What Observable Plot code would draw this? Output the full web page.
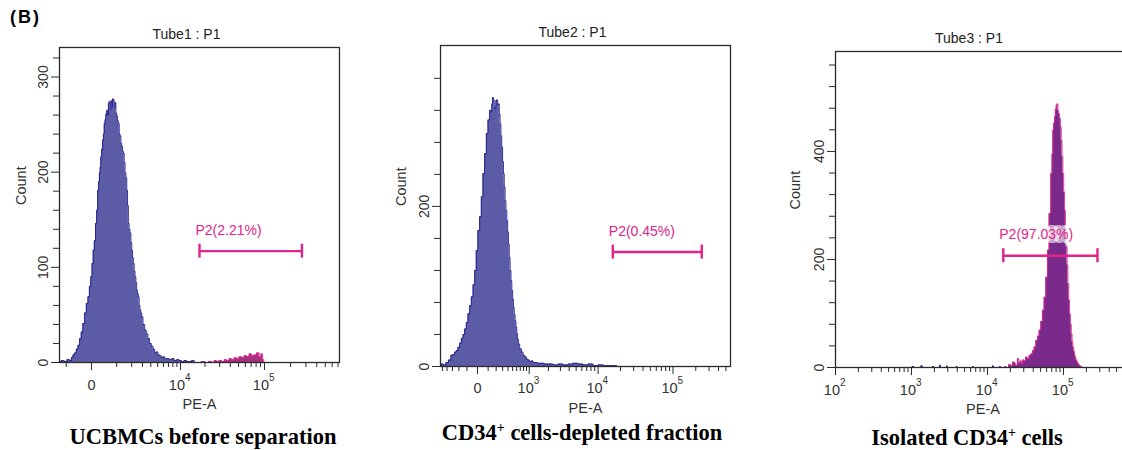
<!DOCTYPE html>
<html><head><meta charset="utf-8">
<script src="https://cdn.jsdelivr.net/npm/d3@7"></script>
<script src="https://cdn.jsdelivr.net/npm/@observablehq/plot@0.6"></script>
<style>
body{margin:0;background:#fff;}
#wrap{position:relative;width:1122px;height:450px;overflow:hidden;font-family:"Liberation Sans",Arial,sans-serif;background:#fff;}
.panel{position:absolute;top:0;}
.cap{position:absolute;font-family:"Liberation Serif","Times New Roman",serif;font-weight:bold;font-size:22.5px;line-height:26px;white-space:nowrap;transform:translateX(-50%);color:#000;}
.cap sup{font-size:62%;position:relative;top:-0.55em;vertical-align:baseline;line-height:0;}
#lab{position:absolute;left:10px;top:7px;font-weight:bold;font-size:18px;letter-spacing:2px;color:#000;}
</style></head><body><div id="wrap"><div id="lab">(B)</div></div>
<script>
// ---------- Panel 1 : UCBMCs before separation ----------
const p1BlueX = [-1390,-1180,-1043,-880,-783,-700,-630,-555,-485,-420,-356,-300,-239,-180,-127,-78,-40,0,33,66,100,140,172,205,235,260,284,309,346,383,405,445,473,510,543,580,613,643,689,730,769,810,847,890,935,980,1026,1070,1116,1170,1216,1270,1320,1370,1422,1480,1536,1600,1655,1710,1772,1830,1902,1970,2037,2100,2171,2240,2318,2390,2473,2550,2626,2700,2794,2880,2970,3150,3336,3530,3735,3950,4187,4420,4663,4900,5181,5466,5766,6070,6385,6900,7434,8000,8629,9300,9996,10700,11550,12400,13330,14300,15360,17000];
const p1BlueY = [1,2,1,3,2,5,8,10,14,18,25,32,41,52,62,69,80,90,104,118,128,146,160,181,190,199,205,216,224,234,240,251,255,261,265,260,272,274,266,275,269,277,276,268,273,262,259,254,251,240,238,230,227,222,220,210,199,194,181,165,146,140,136,126,118,110,104,96,90,84,76,72,69,60,55,52,48,40,34,30,25,20,17,14,10,11,8,7,5,6,4,4,3,4,2,3,2,1,2,1,1,2,0,0];
const p1PosX = [17000,19210,21000,23310,25000,26740,28500,30650,33000,35120,37500,40230,43000,46040,49000,52670,56000,60240,64000,68870,73500,78720,84000,89950,93000,97400,99000];
const p1PosY = [0,1,0,1,0,2,1,2,1,3,2,4,3,5,4,6,5,7,6,9,7,8,10,6,9,3,0];
const p1YTicks = [0,100,200,300];
const p1YMinor = [20,40,60,80,120,140,160,180,220,240,260,280,320];
const p1XTicks = [0,10000,100000];
const p1XBase = ["0","10","10"];
const p1XExp = ["","4","5"];
const p1XMinor = [-1000,1000,2000,3000,4000,5000,6000,7000,8000,9000,20000,30000,40000,50000,60000,70000,80000,90000,200000,300000,400000,500000,600000,700000];
const p1Gate = {x1:17180, x2:270000, y:117, label:"P2(2.21%)"};

// ---------- Panel 2 : CD34+ cells-depleted fraction ----------
const p2BlueX = [-546,-505,-450,-396,-350,-304,-275,-249,-225,-201,-178,-155,-135,-116,-97,-79,-62,-46,-30,-17,-4,10,25,40,55,72,90,107,127,138,148,158,168,180,191,203,215,227,239,252,265,279,293,307,321,336,352,368,385,401,417,435,453,472,491,510,528,549,570,592,615,636,658,708,759,812,866,925,985,1050,1121,1190,1267,1440,1613,1880,2151,2580,3010,3600,4174,4900,5749,6800,7886,9300,10780,13000,16000,20030,25000];
const p2BlueY = [1,3,2,5,8,14,15,18,20,24,29,35,40,47,55,66,76,87,102,120,145,170,187,212,241,266,291,308,320,318,328,336,333,322,324,332,333,327,328,315,303,288,274,256,241,224,207,195,182,168,153,136,120,107,95,84,74,65,57,49,41,34,28,22,18,14,12,9,8,6,7,5,5,4,4,3,3,2,3,2,3,4,3,2,3,1,2,1,1,0,0];
const p2YTicks = [0,200];
const p2YMinor = [40,80,120,160,240,280,320,360];
const p2XTicks = [0,1000,10000,100000];
const p2XBase = ["0","10","10","10"];
const p2XExp = ["","3","4","5"];
const p2XMinor = [-500,-400,-300,-200,-100,100,200,300,400,500,600,700,800,900,2000,3000,4000,5000,6000,7000,8000,9000,20000,30000,40000,50000,60000,70000,80000,90000,200000,300000,400000,500000];
const p2Gate = {x1:15790, x2:240000, y:143, label:"P2(0.45%)"};

// ---------- Panel 3 : Isolated CD34+ cells ----------
const p3PosX = [16980,18300,19770,21000,21850,23010,24200,25420,26500,27610,28600,29580,30900,32810,34500,36240,38100,40070,42200,44380,46700,49090,51600,54240,57100,60100,63100,66400,69970,71700,73420,75300,77310,79300,81440,83400,85500,87700,89950,92300,94710,97000,99400,102000,104700,107400,110200,112900,115700,118800,121900,125000,128300,131400,134600,138000,141600,145300,149200,152800,156600,160700,164900,173000,182300];
const p3PosY = [2,0,5,3,10,8,4,16,9,12,7,14,12,19,16,22,25,31,38,50,58,69,85,106,130,167,217,285,359,395,439,452,464,478,485,488,476,470,461,445,420,390,359,325,291,255,223,190,155,125,99,80,62,48,38,30,22,17,13,10,7,5,3,1,0];
const p3LowX = [1000,1047,1100,1300,1361,1420,1850,1919,2000,2300,2371,2450,2850,2931,3000,3850,3934,4050,6300,6442,6600,11500,11800,12200,14300,14580,15000];
const p3LowY = [0,2,0,0,3,0,0,2,0,0,4,0,0,3,0,0,2,0,0,2,0,0,3,0,0,2,0];
const p3YTicks = [0,200,400];
const p3YMinor = [40,80,120,160,240,280,320,360,440,480,520,560];
const p3XTicks = [100,1000,10000,100000];
const p3XBase = ["10","10","10","10"];
const p3XExp = ["2","3","4","5"];
const p3XMinor = [200,300,400,500,600,700,800,900,2000,3000,4000,5000,6000,7000,8000,9000,20000,30000,40000,50000,60000,70000,80000,90000,200000,300000,400000,500000,600000,700000];
const p3Gate = {x1:16140, x2:280000, y:207, label:"P2(97.03%)"};

const titles = ["Tube1 : P1","Tube2 : P1","Tube3 : P1"];

const BLUE_FILL = "#5b5ba6", BLUE_LINE = "#1d1d8a";
const PURP_FILL = "#7a2a8b", MAG = "#e0248c";
const FONT = "Liberation Sans, Arial, sans-serif";
const AX = "#2a2a2a", TX = "#333";

const rows = (xs, ys) => xs.map((v, i) => ({v, c: ys[i]}));

function panel(cfg) {
  const marks = [];
  for (const s of cfg.series) {
    marks.push(Plot.areaY(rows(s.x, s.y), {x: "v", y: "c", fill: s.fill, curve: "step"}));
    marks.push(Plot.lineY(rows(s.x, s.y), {x: "v", y: "c", stroke: s.stroke, strokeWidth: 0.9, curve: "step"}));
  }
  const g = cfg.gate;
  const hasExp = (d, i) => cfg.xExp[i] !== "";
  const noExp = (d, i) => cfg.xExp[i] === "";
  marks.push(
    Plot.frame({stroke: AX, strokeWidth: 1.3}),
    Plot.axisY(cfg.yMinor, {tickSize: 6, tickFormat: () => "", label: null, stroke: AX}),
    Plot.axisY(cfg.yTicks, {tickSize: 8, tickRotate: -90, tickPadding: 4, fontSize: 14, label: null, stroke: AX, fill: TX}),
    Plot.axisX(cfg.xMinor, {tickSize: 5, tickFormat: () => "", label: null, stroke: AX}),
    Plot.axisX(cfg.xTicks, {tickSize: 8, tickFormat: () => "", label: null, stroke: AX}),
    Plot.text(cfg.xTicks, {filter: noExp, x: (d) => d, text: (d, i) => cfg.xBase[i], frameAnchor: "bottom", dy: cfg.xLabDy, fontSize: 14.5, fill: TX, lineAnchor: "middle"}),
    Plot.text(cfg.xTicks, {filter: hasExp, x: (d) => d, text: (d, i) => cfg.xBase[i], frameAnchor: "bottom", dy: cfg.xLabDy, dx: 4.5, textAnchor: "end", fontSize: 14.5, fill: TX, lineAnchor: "middle"}),
    Plot.text(cfg.xTicks, {filter: hasExp, x: (d) => d, text: (d, i) => cfg.xExp[i], frameAnchor: "bottom", dy: cfg.xLabDy - 8, dx: 4.5, textAnchor: "start", fontSize: 10, fill: TX, lineAnchor: "middle"}),
    Plot.text([cfg.title], {frameAnchor: "top", dy: -13, dx: cfg.titleDx, fontSize: 14, fill: "#222", lineAnchor: "middle"}),
    Plot.text(["PE-A"], {frameAnchor: "bottom", dy: 42, fontSize: 14.5, fill: TX, lineAnchor: "middle"}),
    Plot.text(["Count"], {frameAnchor: "left", dx: cfg.countDx, rotate: -90, fontSize: 14.5, fill: TX, lineAnchor: "middle"}),
    Plot.ruleY([g], {x1: "x1", x2: "x2", y: "y", stroke: MAG, strokeWidth: 2.4}),
    Plot.ruleX([{x: g.x1, y: g.y}, {x: g.x2, y: g.y}], {x: "x", y1: "y", y2: "y", insetTop: -7, insetBottom: -7, stroke: MAG, strokeWidth: 2.4}),
    Plot.text([g], {x: "x1", y: "y", text: "label", textAnchor: "start", dx: -4, dy: -21, fontSize: 14, fill: MAG,
      lineAnchor: "middle", ...(cfg.halo ? {stroke: "white", strokeOpacity: 0.6, strokeWidth: 8} : {})})
  );
  const svg = Plot.plot({
    width: cfg.width, height: 420,
    marginLeft: cfg.mL, marginRight: cfg.mR, marginTop: cfg.mT, marginBottom: 420 - cfg.bottom,
    style: {fontFamily: FONT, background: "transparent", overflow: "visible"},
    x: cfg.x,
    y: {domain: cfg.yDomain},
    marks
  });
  svg.classList.add("panel");
  svg.style.left = cfg.left + "px";
  svg.style.position = "absolute";
  svg.style.top = "0px";
  document.getElementById("wrap").appendChild(svg);
}

panel({left: 0, width: 380, mL: 59, mR: 41, mT: 47, bottom: 362,
  x: {type: "symlog", constant: 1060, domain: [-1400, 728000]}, yDomain: [0, 331],
  series: [{x: p1BlueX, y: p1BlueY, fill: BLUE_FILL, stroke: BLUE_LINE}, {x: p1PosX, y: p1PosY, fill: "#a8317f", stroke: MAG}],
  yTicks: p1YTicks, yMinor: p1YMinor, xTicks: p1XTicks, xBase: p1XBase, xExp: p1XExp, xMinor: p1XMinor, xLabDy: 23,
  gate: p1Gate, title: titles[0], titleDx: -13, countDx: -38});

panel({left: 380, width: 380, mL: 60, mR: 30, mT: 45, bottom: 366,
  x: {type: "symlog", constant: 262, domain: [-546, 575700]}, yDomain: [0, 401],
  series: [{x: p2BlueX, y: p2BlueY, fill: BLUE_FILL, stroke: BLUE_LINE}],
  yTicks: p2YTicks, yMinor: p2YMinor, xTicks: p2XTicks, xBase: p2XBase, xExp: p2XExp, xMinor: p2XMinor, xLabDy: 22,
  gate: p2Gate, title: titles[1], titleDx: -13, countDx: -39});

panel({left: 760, width: 370, mL: 75, mR: 0, mT: 51, bottom: 367,
  x: {type: "log", domain: [100, 762000]}, yDomain: [0, 585],
  series: [{x: p3LowX, y: p3LowY, fill: BLUE_FILL, stroke: BLUE_LINE}, {x: p3PosX, y: p3PosY, fill: PURP_FILL, stroke: MAG}],
  yTicks: p3YTicks, yMinor: p3YMinor, xTicks: p3XTicks, xBase: p3XBase, xExp: p3XExp, xMinor: p3XMinor, xLabDy: 23,
  gate: p3Gate, title: titles[2], titleDx: -14, countDx: -40, halo: true});

const caps = [
  {html: "UCBMCs before separation", x: 203, y: 437},
  {html: "CD34<sup>+</sup> cells-depleted fraction", x: 582, y: 433},
  {html: "Isolated CD34<sup>+</sup> cells", x: 967, y: 438}
];
for (const c of caps) {
  const d = document.createElement("div");
  d.className = "cap";
  d.innerHTML = c.html;
  d.style.left = c.x + "px";
  d.style.top = (c.y - 13) + "px";
  document.getElementById("wrap").appendChild(d);
}
</script></body></html>
